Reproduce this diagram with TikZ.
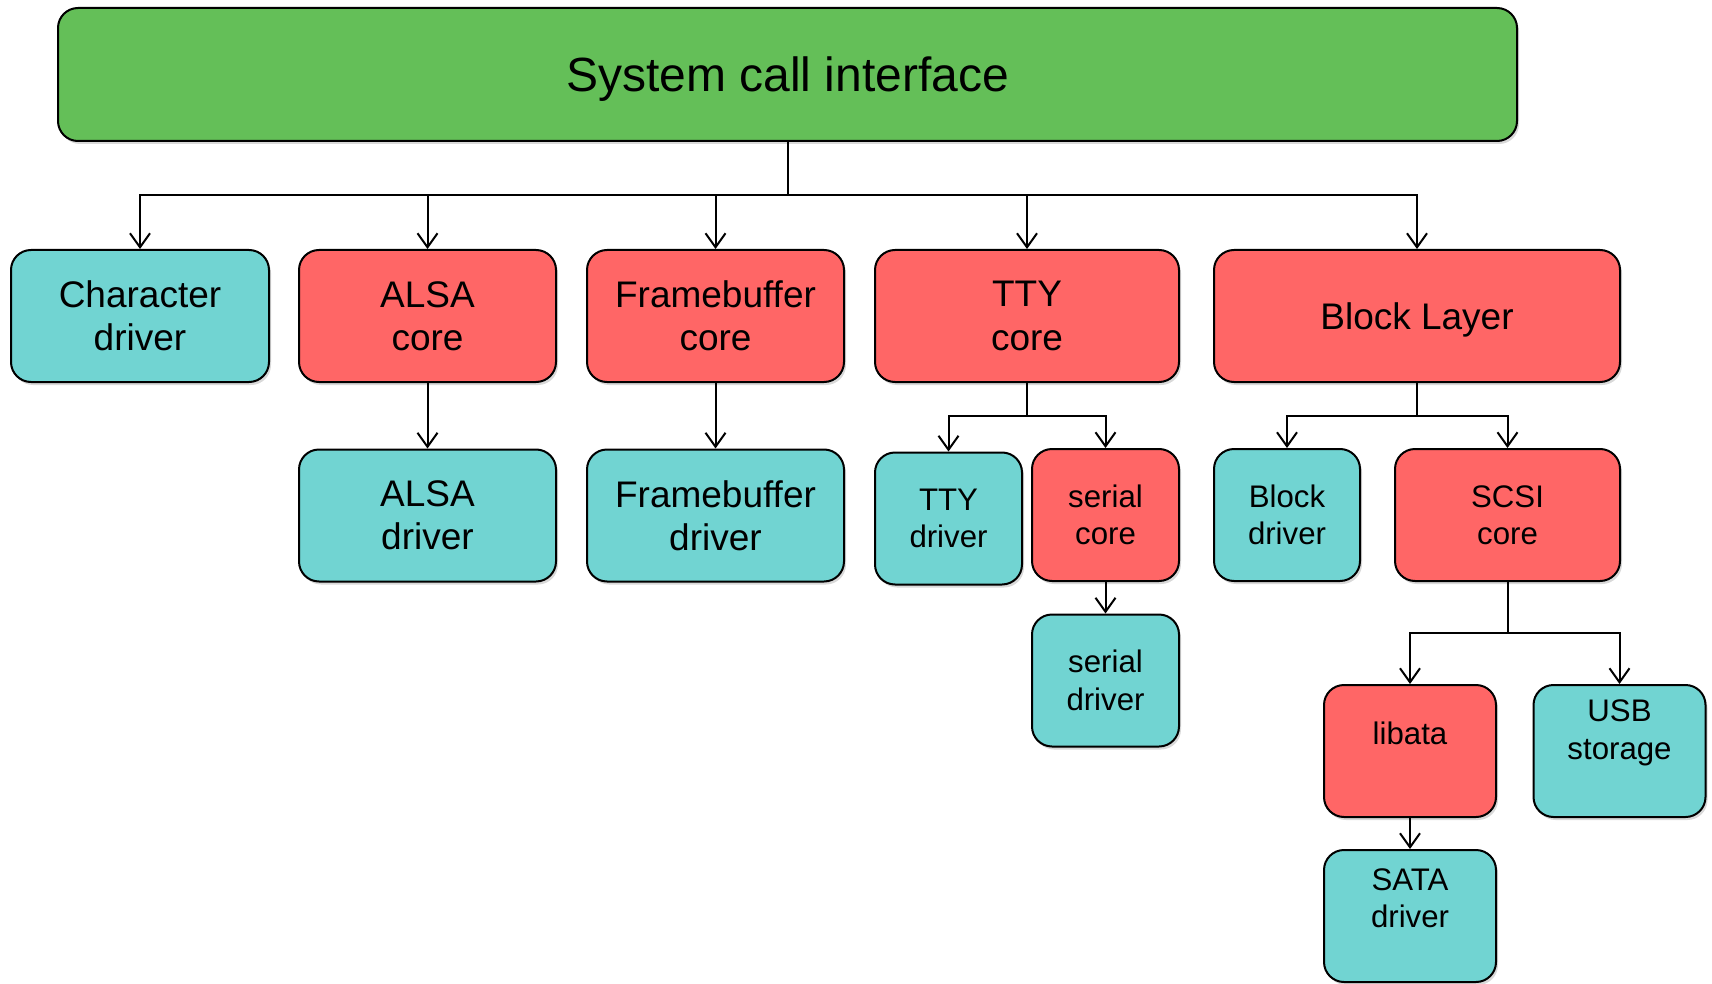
\documentclass[tikz,border=0pt]{standalone}
\usepackage{fontspec}
\setmainfont{Liberation Sans}
\usepackage{xcolor}
\usepackage{tikz}
\usetikzlibrary{arrows.meta, shadows}
\definecolor{callgreen}{HTML}{64BF58}
\definecolor{corered}{HTML}{FF6666}
\definecolor{drivercyan}{HTML}{71D4D2}

\begin{document}
\begin{tikzpicture}[x=0.5pt, y=-0.5pt,
    box/.style={draw=black, line width=1pt, rounded corners=10pt, inner sep=0pt,
        minimum height=66pt, align=center,
        drop shadow={shadow xshift=1pt, shadow yshift=-1.5pt, opacity=0.3}},
    core/.style={box, fill=corered},
    drv/.style={box, fill=drivercyan},
    bigtxt/.style={font=\fontsize{18.5}{21.7}\selectfont},
    smalltxt/.style={font=\fontsize{15.6}{18.7}\selectfont},
    uptext/.style={label={[smalltxt, align=center, yshift=9pt]center:#1}},
    arr/.style={line width=1pt, -{Straight Barb[length=7pt, width=10pt]}}]
    \useasboundingbox (0,0) rectangle (1712,984);

    % top layer
    \node[box, fill=callgreen, minimum width=729.5pt, minimum height=66.5pt,
          text depth=0pt, font=\fontsize{24}{28}\selectfont] (sys) at (787.5,74.5) {System call interface};

    % first row
    \node[drv, bigtxt, minimum width=129pt] (chr) at (140,316) {Character\\driver};
    \node[core, bigtxt, minimum width=128.5pt] (alsa) at (427.5,316) {ALSA\\core};
    \node[core, bigtxt, minimum width=128.5pt] (fbc) at (715.5,316) {Framebuffer\\core};
    \node[core, bigtxt, minimum width=152pt] (tty) at (1027,316) {TTY\\core};
    \node[core, bigtxt, minimum width=203pt, text depth=0pt] (blk) at (1417,316) {Block Layer};

    % second row
    \node[drv, bigtxt, minimum width=128.5pt] (alsadrv) at (427.5,515.5) {ALSA\\driver};
    \node[drv, bigtxt, minimum width=128.5pt] (fbdrv) at (715.5,515.5) {Framebuffer\\driver};
    \node[drv, smalltxt, minimum width=73.5pt] (ttydrv) at (948.5,518.5) {TTY\\driver};
    \node[core, smalltxt, minimum width=73.5pt] (sercore) at (1105.5,515) {serial\\core};
    \node[drv, smalltxt, minimum width=73pt] (blkdrv) at (1287,515) {Block\\driver};
    \node[core, smalltxt, minimum width=112.5pt] (scsi) at (1507.5,515) {SCSI\\core};

    % lower rows
    \node[drv, smalltxt, minimum width=73.5pt] (serdrv) at (1105.5,680.5) {serial\\driver};
    \node[core, minimum width=86pt, uptext={libata}] (libata) at (1410,751) {};
    \node[drv, minimum width=86pt, uptext={USB\\storage}] (usb) at (1619.5,751) {};
    \node[drv, minimum width=86pt, uptext={SATA\\driver}] (sata) at (1410,916) {};

    % connectors
    \coordinate (bus1) at (0,195);
    \coordinate (bus2) at (0,416);
    \coordinate (bus3) at (0,633);
    \foreach \n in {chr, alsa, fbc, tty, blk}
        \draw[arr] (sys.south) -- (sys.south |- bus1) -| (\n.north);
    \draw[arr] (alsa.south) -- (alsadrv.north);
    \draw[arr] (fbc.south) -- (fbdrv.north);
    \foreach \n in {ttydrv, sercore}
        \draw[arr] (tty.south) -- (tty.south |- bus2) -| (\n.north);
    \foreach \n in {blkdrv, scsi}
        \draw[arr] (blk.south) -- (blk.south |- bus2) -| (\n.north);
    \draw[arr] (sercore.south) -- (serdrv.north);
    \foreach \n in {libata, usb}
        \draw[arr] (scsi.south) -- (scsi.south |- bus3) -| (\n.north);
    \draw[arr] (libata.south) -- (sata.north);
\end{tikzpicture}
\end{document}
